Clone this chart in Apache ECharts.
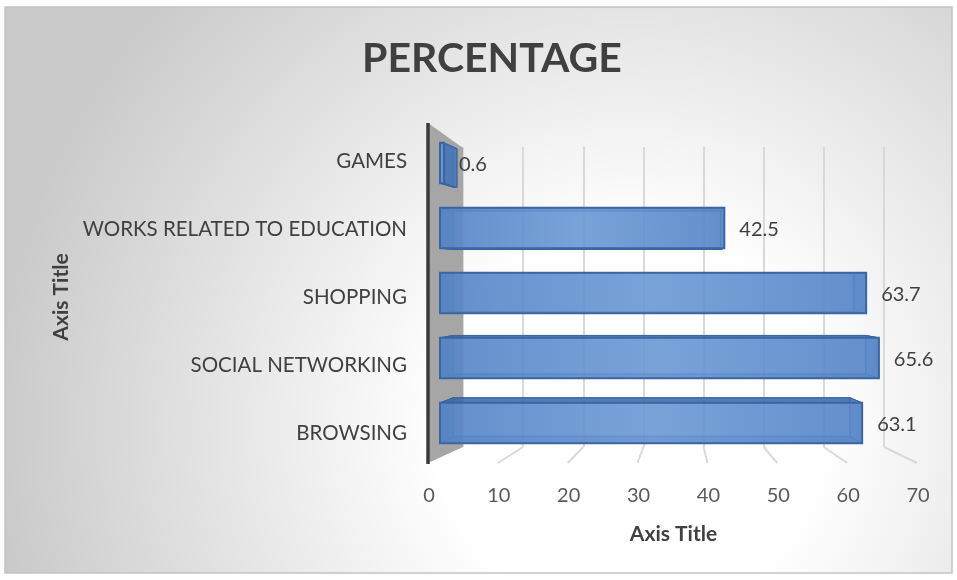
<!DOCTYPE html>
<html>
<head>
<meta charset="utf-8">
<title>PERCENTAGE</title>
<script src="https://cdn.jsdelivr.net/npm/echarts@6/dist/echarts.min.js"></script>
<style>
  html, body { margin: 0; padding: 0; background: #ffffff; }
  #chart { width: 957px; height: 580px; }
</style>
</head>
<body>
<div id="chart"></div>
<script>
// Categories listed bottom to top, as the category axis stacks them
const categories = ['BROWSING', 'SOCIAL NETWORKING', 'SHOPPING', 'WORKS RELATED TO EDUCATION', 'GAMES'];
const percentages = [63.1, 65.6, 63.7, 42.5, 0.6];
const valueTicks = [0, 10, 20, 30, 40, 50, 60, 70];

const titleText = 'PERCENTAGE';
const xAxisTitle = 'Axis Title';
const yAxisTitle = 'Axis Title';

const FONT = 'Lato, "Open Sans", sans-serif';

// Perspective used for the depth of each bar box: the back face is the
// front face scaled toward a vanishing point.
const VX = 660, KX = 0.94;
const VY = 281, KY = 0.958;
const backX = x => VX + KX * (x - VX);
const backY = y => VY + KY * (y - VY);

const chart = echarts.init(document.getElementById('chart'), null, { renderer: 'canvas' });

function renderBox(params, api) {
  const v = api.value(0);
  const idx = api.value(1);
  const p0 = api.coord([0, idx]);
  const p1 = api.coord([v, idx]);
  const h = api.size([0, 1])[1] * 0.62;
  const yT = p0[1] - h / 2, yB = p0[1] + h / 2;
  const xL = p0[0], xR = p1[0];
  const fTL = [xL, yT], fTR = [xR, yT], fBL = [xL, yB], fBR = [xR, yB];
  const bTL = [backX(xL), backY(yT)], bTR = [backX(xR), backY(yT)];
  const bBL = [backX(xL), backY(yB)], bBR = [backX(xR), backY(yB)];
  const edge = '#3a66a3';
  const poly = (pts, fill, stroke, lw) => ({
    type: 'polygon',
    shape: { points: pts },
    style: { fill: fill, stroke: stroke, lineWidth: lw }
  });
  return {
    type: 'group',
    children: [
      poly([bTL, bTR, bBR, bBL], 'rgba(70,115,180,0.55)', 'rgba(45,85,145,0.7)', 1),
      poly([fTL, fTR, bTR, bTL], 'rgba(60,105,170,0.75)', edge, 1),
      poly([fBL, fBR, bBR, bBL], 'rgba(60,105,170,0.75)', edge, 1),
      poly([fTL, fBL, bBL, bTL], 'rgba(60,105,170,0.7)', edge, 1),
      poly([fTR, fBR, bBR, bTR], 'rgba(75,120,185,0.7)', edge, 1),
      {
        type: 'rect',
        shape: { x: xL, y: yT, width: xR - xL, height: yB - yT },
        style: {
          fill: {
            type: 'linear', x: 0, y: 0, x2: 1, y2: 0,
            colorStops: [
              { offset: 0, color: 'rgba(88,135,200,0.82)' },
              { offset: 0.5, color: 'rgba(112,158,218,0.78)' },
              { offset: 1, color: 'rgba(88,135,200,0.82)' }
            ]
          },
          stroke: edge,
          lineWidth: 2
        }
      },
      {
        type: 'text',
        style: {
          text: String(v),
          x: xR + 15,
          y: p0[1] + 2,
          fill: '#404040',
          font: '20px ' + FONT,
          textAlign: 'left',
          textVerticalAlign: 'middle'
        }
      }
    ]
  };
}

const option = {
  animation: false,
  backgroundColor: '#ffffff',
  title: {
    text: titleText,
    left: 357,
    top: 33,
    textStyle: { fontFamily: FONT, fontWeight: 'bold', fontSize: 41, color: '#404040' }
  },
  grid: [
    // back wall
    { left: 463, top: 147, width: 421, height: 300 },
    // front edge of the floor, carries the value labels
    { left: 429, top: 463, width: 489, height: 1 },
    // bar boxes
    { left: 440, top: 130.5, width: 468.3, height: 325 },
    // category labels
    { left: 428, top: 127, width: 480, height: 340 }
  ],
  xAxis: [
    {
      gridIndex: 0, type: 'value', min: 0, max: 70, interval: 10,
      axisLine: { show: false }, axisTick: { show: false }, axisLabel: { show: false },
      splitLine: { show: true, lineStyle: { color: '#d9d9d9', width: 2 } }
    },
    {
      gridIndex: 1, type: 'value', min: 0, max: 70, interval: 10,
      axisLine: { show: false }, axisTick: { show: false }, splitLine: { show: false },
      axisLabel: { color: '#595959', fontFamily: FONT, fontSize: 20, margin: 22 },
      name: xAxisTitle, nameLocation: 'middle', nameGap: 60,
      nameTextStyle: { fontFamily: FONT, fontWeight: 'bold', fontSize: 21, color: '#404040' }
    },
    {
      gridIndex: 2, type: 'value', min: 0, max: 70, interval: 10, show: false
    },
    {
      gridIndex: 3, type: 'value', min: 0, max: 70, interval: 10, show: false
    }
  ],
  yAxis: [
    { gridIndex: 0, type: 'category', data: categories, show: false },
    { gridIndex: 1, type: 'value', show: false },
    { gridIndex: 2, type: 'category', data: categories, show: false },
    {
      gridIndex: 3, type: 'category', data: categories,
      axisLine: { show: false }, axisTick: { show: false }, splitLine: { show: false },
      axisLabel: { color: '#404040', fontFamily: FONT, fontSize: 20.5, margin: 21 },
      name: yAxisTitle, nameLocation: 'middle', nameGap: 352, nameRotate: 90,
      nameTextStyle: { fontFamily: FONT, fontWeight: 'bold', fontSize: 21, color: '#404040' }
    }
  ],
  series: [
    {
      type: 'custom',
      xAxisIndex: 2,
      yAxisIndex: 2,
      renderItem: renderBox,
      encode: { x: 0, y: 1 },
      data: percentages.map((v, i) => [v, i]),
      z: 10
    }
  ]
};

chart.setOption(option);

// Chart frame, side wall and floor lines, placed from the axes' own scales
function decorate() {
  const back = v => chart.convertToPixel({ xAxisIndex: 0 }, v);
  const front = v => chart.convertToPixel({ xAxisIndex: 1 }, v);
  const wallTop = 147, wallBottom = 447, floorFront = 463, wallFrontTop = 123;
  const x0Back = back(0), x0Front = 428;

  const floorLines = valueTicks.slice(1).map(v => ({
    type: 'line',
    shape: { x1: back(v), y1: wallBottom, x2: front(v) - 1, y2: floorFront },
    style: { stroke: '#d9d9d9', lineWidth: 2 },
    z: 1
  }));

  chart.setOption({
    graphic: [
      {
        type: 'rect',
        shape: { x: 5, y: 7, width: 947, height: 566 },
        style: {
          fill: {
            type: 'radial', x: 0.66, y: 0.74, r: 1.12,
            colorStops: [
              { offset: 0, color: '#ffffff' },
              { offset: 0.3, color: '#ffffff' },
              { offset: 1, color: '#cacaca' }
            ]
          },
          stroke: '#c4c4c4', lineWidth: 1.5
        },
        z: -10, silent: true
      },
      {
        type: 'polygon',
        shape: { points: [[x0Front, wallFrontTop], [x0Back, wallTop + 1], [x0Back, wallBottom], [x0Front, floorFront]] },
        style: { fill: '#a6a6a6' },
        z: 2
      },
      {
        type: 'line',
        shape: { x1: x0Front, y1: wallFrontTop, x2: x0Front, y2: floorFront + 1 },
        style: { stroke: '#3a3a3a', lineWidth: 3.5 },
        z: 3
      }
    ].concat(floorLines)
  });
}
decorate();
</script>
</body>
</html>
